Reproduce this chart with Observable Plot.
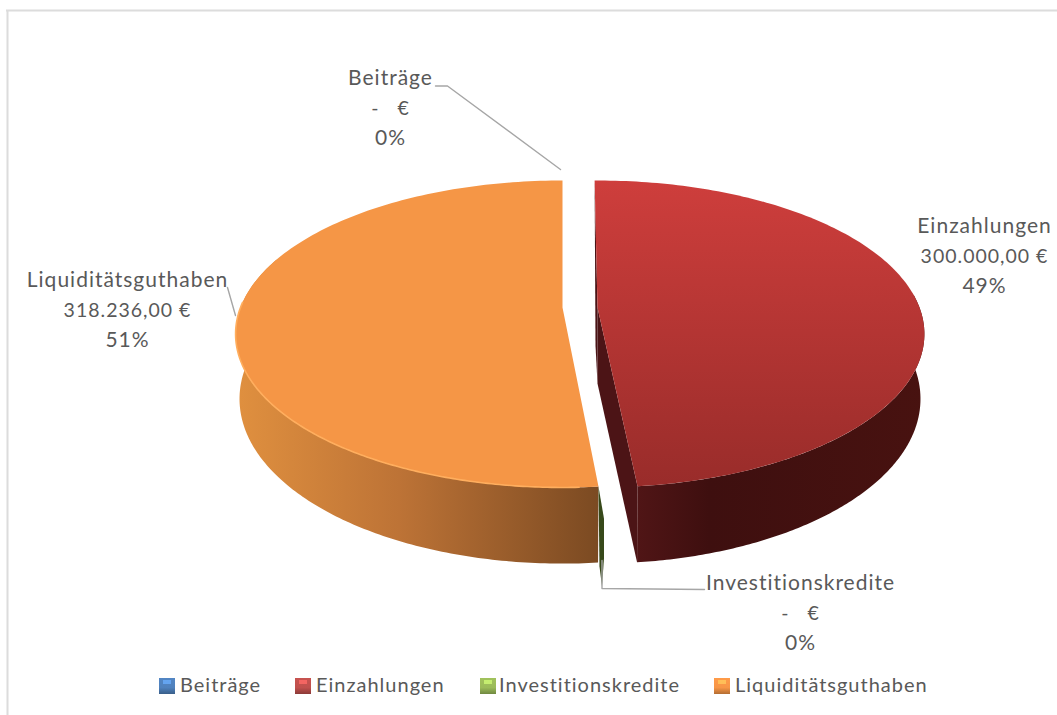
<!DOCTYPE html>
<html><head><meta charset="utf-8">
<script src="https://cdn.jsdelivr.net/npm/d3@7"></script>
<script src="https://cdn.jsdelivr.net/npm/@observablehq/plot@0.6"></script>
<style>html,body{margin:0;background:#fff}svg{display:block}</style>
</head><body><div id="chart"></div>
<script>
const categories = ["Beiträge", "Einzahlungen", "Investitionskredite", "Liquiditätsguthaben"];
const values = [0, 300000, 0, 318236];
const legendColors = ["#4F81BD", "#C0504D", "#9BBB59", "#F79646"];

// layout, separate from the data
const labelAnchors = [[390, 108], [984, 256], [800, 613], [127, 310]];
const lineGap = 30;
const legendSwatchX = [159, 295, 480, 714];
const legendTextX = [179.5, 315.5, 498.5, 734.5];
const W = 1057, H = 715;

// Perspective view of the pie disc
const rad = Math.PI / 180, persp = 0.1726, A = 322, B = 148.9, apexY = 307, depth = 63;
const apexXOf = {Einzahlungen: 597, "Liquiditätsguthaben": 562};
const seam = {Einzahlungen: -0.6 * rad, "Liquiditätsguthaben": 0};
const total = d3.sum(values);
const arcs = new Map();
let acc = 0;
categories.forEach((c, i) => { const a0 = acc / total * 2 * Math.PI; acc += values[i]; arcs.set(c, [a0, acc / total * 2 * Math.PI]); });

const topRim = (cx, t) => { const w = 1 + persp * Math.cos(t); return [cx + A * Math.sin(t) / w, apexY - B * Math.cos(t) / w]; };
const botRim = (cx, t) => { const w = 1 + persp * Math.cos(t); return [cx + 0.988 * A * Math.sin(t) / w, apexY - B * Math.cos(t) / w + depth / w]; };
const sweep = (t0, t1, n = 160) => d3.range(n + 1).map(i => t0 + (t1 - t0) * i / n);

function slice(name) {
  const [a0, a1] = arcs.get(name), s = seam[name], cx = apexXOf[name];
  return {cx, t0: a0 + s, t1: a1 + s};
}
const red = slice("Einzahlungen"), org = slice("Liquiditätsguthaben");
const wedge = s => [[s.cx, apexY], ...sweep(s.t0, s.t1).map(t => topRim(s.cx, t))];
const side = (s, t0, t1) => [...sweep(t0, t1).map(t => topRim(s.cx, t)), ...sweep(t1, t0).map(t => botRim(s.cx, t))];

const apexB = s => [s.cx, apexY + depth + 13];
const redInner = [[red.cx, apexY], topRim(red.cx, red.t1), botRim(red.cx, red.t1), apexB(red)];
const redBack = [topRim(red.cx, red.t0), [red.cx, apexY], apexB(red), [red.cx - 2, apexY + 38]];

// the two empty slices: Investitionskredite shows only as a sliver at the seam
const rimP = topRim(org.cx, org.t0);
const sliver = [rimP, [rimP[0] + 5.5, rimP[1] + 32], [rimP[0] + 5.5, rimP[1] + 72], [rimP[0] + 3.5, rimP[1] + 100], [rimP[0] + 1, rimP[1] + 80]];

const fmtNum = new Intl.NumberFormat("de-DE", {minimumFractionDigits: 2, maximumFractionDigits: 2});
const valueText = values.map(v => v ? fmtNum.format(v) + " €" : "-   €");
const pctText = values.map(v => `${Math.round(v / total * 100)}%`);

const poly = (pts, fill) => Plot.line(pts, {x: d => d[0], y: d => d[1], fill, stroke: "none", curve: "linear"});
const stroke = (pts, color, w, extra = {}) => Plot.line(pts, {x: d => d[0], y: d => d[1], stroke: color, strokeWidth: w, curve: "linear", ...extra});

const defs = () => {
  const d = d3.create("svg:defs");
  const grad = (id, vertical, stops) => {
    const g = d.append("linearGradient").attr("id", id).attr("x1", 0).attr("y1", 0).attr("x2", vertical ? 0 : 1).attr("y2", vertical ? 1 : 0);
    stops.forEach(([o, c]) => g.append("stop").attr("offset", o).attr("stop-color", c));
  };
  grad("redTop", true, [[0, "#CE3E3C"], [1, "#992C2A"]]);
  grad("orgSide", false, [[0, "#E0903F"], [0.45, "#BD7336"], [1, "#7B4A22"]]);
  grad("redSide", false, [[0, "#501516"], [0.25, "#3E0F0F"], [1, "#481210"]]);
  legendColors.forEach((c, i) => grad("sw" + i, true, [[0, d3.color(c).brighter(0.1).formatHex()], [0.6, c], [1, d3.color(c).darker(0.9).formatHex()]]));
  return d.node();
};

const indices = d3.range(categories.length);
const labelLine = (text, offset, fontSize) => Plot.text(indices, {x: i => labelAnchors[i][0], y: i => labelAnchors[i][1] + offset * lineGap, text, fontSize, fill: "#595959", textAnchor: "middle"});
const plot = Plot.plot({
  width: W, height: H, margin: 0,
  x: {domain: [0, W], range: [0, W], axis: null},
  y: {domain: [0, H], range: [0, H], axis: null},
  style: {background: "#fff", fontFamily: "Lato, 'Open Sans', sans-serif", letterSpacing: "1px"},
  marks: [
    defs,
    Plot.ruleX([7], {y1: 10, y2: H, stroke: "#DCDCDC", strokeWidth: 2}),
    Plot.ruleY([10], {x1: 6, x2: W, stroke: "#DCDCDC", strokeWidth: 2}),
    // sides
    poly(side(org, org.t0, 290 * rad), "url(#orgSide)"),
    poly(sliver, "#37491A"),
    poly(redBack, "#4A1416"),
    poly(side(red, 85 * rad, red.t1), "url(#redSide)"),
    poly(redInner, "#4C1416"),
    // tops
    poly(wedge(org), "#F59646"),
    stroke(sweep(org.t0 + 0.05, 272 * rad).map(t => topRim(org.cx, t)), "#FFAE5E", 1.6),
    poly(wedge(red), "url(#redTop)"),
    // leader lines
    stroke([[435, 85.5], [447, 85.5], [560, 169]], "#A6A6A6", 1.4),
    stroke([[601.5, 560], [601.5, 588], [704, 589]], "#A6A6A6", 1.4),
    stroke([[227, 287], [235, 315]], "#A6A6A6", 1.4),
    // data labels
    labelLine(i => categories[i], -1, 21),
    labelLine(i => valueText[i], 0, 19.5),
    labelLine(i => pctText[i], 1, 21),
    // legend
    Plot.rect(indices, {x1: i => legendSwatchX[i], x2: i => legendSwatchX[i] + 16, y1: 678, y2: 694, fill: i => `url(#sw${i})`}),
    Plot.rect(indices, {x1: i => legendSwatchX[i] + 4, x2: i => legendSwatchX[i] + 12, y1: 680, y2: 684, fill: i => d3.color(legendColors[i]).brighter(0.8).formatHex(), fillOpacity: 0.8}),
    Plot.text(indices, {x: i => legendTextX[i], y: 685, text: i => categories[i], fontSize: 20, fill: "#595959", textAnchor: "start"})
  ]
});
document.getElementById("chart").append(plot);
</script>
</body></html>
